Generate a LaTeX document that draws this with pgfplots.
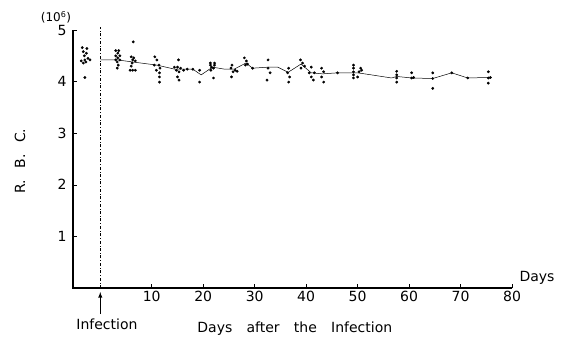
\documentclass[border=0pt]{standalone}
\usepackage{fontspec}
\setmainfont{DejaVu Sans}
\usepackage{pgfplots}
\pgfplotsset{compat=1.18}
\begin{document}
\begin{tikzpicture}
\useasboundingbox (-73pt,-49pt) rectangle (496pt,288pt);
\begin{axis}[
  at={(0,0)}, anchor=south west,
  scale only axis, width=439pt, height=258pt,
  xmin=-5.3, xmax=80, ymin=0, ymax=5,
  axis lines=left,
  axis line style={-},
  xtick={10,20,...,80}, ytick={1,2,3,4,5},
  tick align=inside, major tick length=4pt,
  tick style={black, line width=0.6pt},
  ticklabel style={font=\fontsize{14}{16}\selectfont},
  yticklabel style={xshift=-3pt},
  /pgf/number format/assume math mode=true,
  clip=false,
]
% heavier axis lines as in the original drawing
\draw[line width=1.3pt] (rel axis cs:0,0) -- (rel axis cs:1,0);
\draw[line width=2pt] (rel axis cs:0,-0.002) -- (rel axis cs:0,1);
% vertical dash-dot line at infection
\draw[dash dot, line width=0.5pt] (axis cs:0,0) -- (axis cs:0,5.05);
% individual measurements
\addplot[only marks, mark=*, mark size=1.2pt, black] coordinates {
(-3.5,4.66) (-2.6,4.64) (-3.3,4.58) (-2.7,4.55) (-3.1,4.50) (-3.7,4.40) (-3.0,4.42)
(-2.4,4.45) (-2.8,4.38) (-2.0,4.42) (-3.3,4.36) (-3.0,4.08)
(3.0,4.60) (3.6,4.60) (3.4,4.55) (3.0,4.50) (3.8,4.50) (3.4,4.46) (3.0,4.42) (3.8,4.42)
(3.3,4.38) (3.5,4.32) (3.3,4.26)
(6.4,4.77) (6.0,4.48) (6.5,4.46) (6.3,4.42) (6.8,4.40) (6.2,4.36) (6.0,4.30)
(5.8,4.22) (6.3,4.22) (6.8,4.22)
(10.6,4.48) (11.0,4.42) (10.5,4.32) (11.4,4.32) (11.6,4.26) (10.9,4.22) (11.5,4.17)
(11.5,4.09) (11.5,3.99)
(15.2,4.42) (14.4,4.28) (15.0,4.28) (15.6,4.26) (16.2,4.22) (14.8,4.22) (15.3,4.19)
(15.0,4.09) (15.3,4.03) (16.9,4.24) (18.0,4.24)
(19.3,4.22) (19.3,3.99)
(21.4,4.36) (22.2,4.36) (21.4,4.32) (22.2,4.32) (21.6,4.28) (22.0,4.26) (21.5,4.22) (22.0,4.07)
(25.6,4.32) (25.4,4.26) (26.2,4.22) (25.8,4.19) (26.6,4.20) (25.5,4.09)
(28.0,4.46) (28.4,4.40) (28.6,4.34) (28.2,4.32) (29.6,4.26)
(32.6,4.42) (32.6,4.26) (33.0,4.17) (32.4,4.03)
(36.6,4.26) (36.4,4.17) (36.8,4.09) (36.6,3.99)
(38.9,4.42) (39.3,4.36) (39.7,4.30) (39.0,4.26)
(41.0,4.28) (40.6,4.17) (41.6,4.17) (41.0,4.09) (41.4,4.03)
(43.0,4.26) (43.4,4.19) (43.0,4.09) (43.4,3.99)
(46.1,4.17)
(49.2,4.32) (49.2,4.26) (49.2,4.19) (49.2,4.13) (49.2,4.07) (50.6,4.26) (50.3,4.19)
(50.8,4.22) (50.0,4.09)
(57.6,4.20) (57.6,4.13) (57.6,4.07) (57.6,3.99)
(60.5,4.17) (60.5,4.07) (60.9,4.08)
(64.6,4.17) (64.6,4.06) (64.6,3.87)
(68.3,4.17) (71.4,4.07)
(75.4,4.19) (75.4,4.07) (75.8,4.08) (75.4,3.97)
};
% mean line
\addplot[black, line width=0.5pt, mark=none] coordinates {
(0,4.42) (3.4,4.42) (6.3,4.38) (11,4.32) (14.5,4.24) (18,4.24) (19.6,4.13)
(21.8,4.28) (24.2,4.24) (26,4.24) (28.3,4.36) (29.6,4.26) (32.6,4.28) (34.5,4.28)
(36.5,4.18) (39,4.34) (41,4.17) (43.2,4.15) (46.1,4.17) (50,4.17) (52.7,4.13)
(56.6,4.07) (57.6,4.10) (60.5,4.07) (64.6,4.06) (68.3,4.17) (71.4,4.07) (75.4,4.08)
};
% texts
\node[anchor=west, font=\fontsize{14}{16}\selectfont, yshift=10pt, xshift=4pt] at (axis cs:80,0) {Days};
\node[font=\fontsize{12}{14}\selectfont, xshift=-17pt, yshift=13pt] at (rel axis cs:0,1) {(10\textsuperscript{6})};
\node[xshift=-53pt, yshift=127pt, rotate=90, font=\fontsize{14}{16}\selectfont] at (rel axis cs:0,0) {R.\hspace{0.5em} B.\hspace{0.5em} C.};
\draw[-latex, line width=0.9pt] ([yshift=-26pt]axis cs:0,0) -- ([yshift=-4pt]axis cs:0,0);
\node[font=\fontsize{14}{16}\selectfont, yshift=-36pt] at (axis cs:1.3,0) {Infection};
\node[font=\fontsize{14}{16}\selectfont, yshift=-41pt] at (axis cs:37.8,0) {Days\hspace{0.7em} after\hspace{0.7em} the\hspace{0.7em} Infection};
\end{axis}
\end{tikzpicture}
\end{document}
